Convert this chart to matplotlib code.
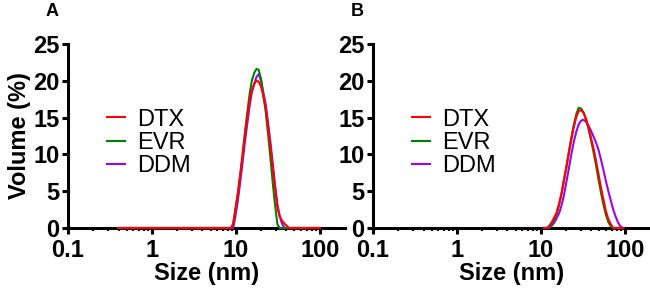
import matplotlib
matplotlib.use('Agg')
import matplotlib.pyplot as plt
from matplotlib.ticker import FixedLocator, NullFormatter

plt.rcParams['font.family'] = ['Liberation Sans', 'DejaVu Sans']

LABELS = ['DTX', 'EVR', 'DDM']
COLORS = {'DTX': '#FF0000', 'EVR': '#008000', 'DDM': '#A000F0'}

# panel A: sizes (nm) and volume (%)
size_a = [0.4, 8.8, 9.3, 9.9, 10.6, 11.3, 12.0, 12.8, 13.7, 14.6, 15.5, 16.6,
          17.6, 18.7, 20.0, 21.3, 22.7, 24.2, 25.8, 27.5, 29.3, 31.3, 33.3,
          35.5, 37.9, 40.4, 43.1, 100]
dtx_a = [0, 0, 0.6, 2.6, 4.8, 7.2, 9.6, 12.4, 15.1, 17.3, 18.7, 19.6,
         20.0, 19.9, 19.2, 17.9, 16.4, 13.8, 11.2, 8.3, 5.5, 2.8, 1.6,
         1.0, 0.6, 0.3, 0, 0]
evr_a = [0, 0, 0.5, 2.5, 4.8, 7.4, 10.0, 12.9, 15.7, 18.2, 20.0, 21.1,
         21.6, 21.5, 20.2, 18.0, 15.8, 12.8, 9.6, 6.2, 3.2, 0.5, 0,
         0, 0, 0, 0, 0]
ddm_a = [0, 0, 0, 1.6, 3.8, 6.3, 8.8, 11.6, 14.2, 16.6, 18.4, 19.6,
         20.5, 20.9, 20.0, 18.4, 16.8, 14.3, 11.7, 8.8, 5.9, 3.2, 1.6,
         0.6, 0, 0, 0, 0]

# panel B
size_b = [11.0, 11.8, 12.6, 13.5, 14.4, 15.4, 16.5, 17.7, 18.9, 20.2, 21.6,
          23.1, 24.7, 26.5, 28.3, 30.3, 32.4, 34.7, 37.1, 39.7, 42.5, 45.5,
          48.7, 52.1, 55.7, 59.6, 63.8, 68.3, 73.0, 78.2, 83.6, 89.5, 95.8]
dtx_b = [0, 0, 0.3, 0.8, 1.4, 2.1, 3.3, 4.8, 6.6, 8.3, 10.2,
         12.0, 13.7, 15.1, 15.9, 16.0, 15.6, 14.8, 13.6, 12.2, 10.8, 9.1,
         7.3, 5.5, 3.9, 2.3, 1.2, 0.5, 0, 0, 0, 0, 0]
evr_b = [0, 0, 0.1, 0.5, 1.1, 1.9, 3.1, 4.7, 6.5, 8.4, 10.4,
         12.3, 14.0, 15.5, 16.35, 16.2, 15.7, 14.7, 13.4, 11.9, 10.3, 8.5,
         6.6, 4.8, 3.2, 1.8, 0.8, 0.2, 0, 0, 0, 0, 0]
ddm_b = [0, 0, 0, 0.3, 0.7, 1.3, 2.0, 3.1, 4.5, 6.3, 8.1,
         10.0, 11.7, 13.1, 14.1, 14.6, 14.7, 14.4, 13.9, 13.2, 12.4, 11.6,
         10.6, 9.3, 7.9, 6.4, 5.0, 3.7, 2.5, 1.5, 0.7, 0.2, 0]

x_ticks = [0.1, 1, 10, 100]
x_tick_labels = ['0.1', '1', '10', '100']
y_ticks = [0, 5, 10, 15, 20, 25]

fig = plt.figure(figsize=(6.5, 2.95), dpi=100)
ax_a = fig.add_axes([68 / 650, 1 - 228 / 295, 277 / 650, 184 / 295])
ax_b = fig.add_axes([373 / 650, 1 - 228 / 295, 277 / 650, 184 / 295])


def draw_panel(ax, sizes, series, letter, leg_x, ylabel):
    for name in ['DDM', 'EVR', 'DTX']:
        ax.plot(sizes, series[name], color=COLORS[name], lw=1.5,
                label=name, clip_on=False, zorder=3)
    ax.set_xscale('log')
    ax.set_xlim(0.1, 200)
    ax.set_ylim(0, 25)
    ax.spines['top'].set_visible(False)
    ax.spines['right'].set_visible(False)
    for s in ['left', 'bottom']:
        ax.spines[s].set_linewidth(2.2)
    ax.xaxis.set_major_locator(FixedLocator(x_ticks))
    ax.set_xticklabels(x_tick_labels)
    ax.xaxis.set_minor_locator(FixedLocator(
        [m * d for d in [0.1, 1, 10, 100] for m in range(2, 10) if m * d < 200]))
    ax.xaxis.set_minor_formatter(NullFormatter())
    ax.set_yticks(y_ticks)
    ax.tick_params(axis='both', which='major', length=4, width=2.2,
                   labelsize=17, pad=2)
    ax.tick_params(axis='x', which='major', pad=4)
    ax.tick_params(axis='x', which='minor', length=2, width=1.5)
    for lab in ax.get_xticklabels() + ax.get_yticklabels():
        lab.set_fontweight('bold')
    ax.set_xlabel('Size (nm)', fontsize=17, fontweight='bold', labelpad=0)
    if ylabel:
        ax.set_ylabel('Volume (%)', fontsize=17, fontweight='bold', labelpad=2)
    handles, labels = ax.get_legend_handles_labels()
    order = [labels.index(n) for n in LABELS]
    fig.legend([handles[i] for i in order], LABELS, loc='center left',
               bbox_to_anchor=(leg_x, 1 - 143 / 295), frameon=False,
               fontsize=17, handlelength=0.78, handletextpad=0.5,
               labelspacing=0.06, borderpad=0, borderaxespad=0)
    fig.text(leg_x - 0.095, 1 - 12 / 295, letter, fontsize=13,
             fontweight='bold', ha='left', va='center')


draw_panel(ax_a, size_a, {'DTX': dtx_a, 'EVR': evr_a, 'DDM': ddm_a},
           'A', 107 / 650, True)
draw_panel(ax_b, size_b, {'DTX': dtx_b, 'EVR': evr_b, 'DDM': ddm_b},
           'B', 412 / 650, False)

fig.savefig('out.png', dpi=100)
